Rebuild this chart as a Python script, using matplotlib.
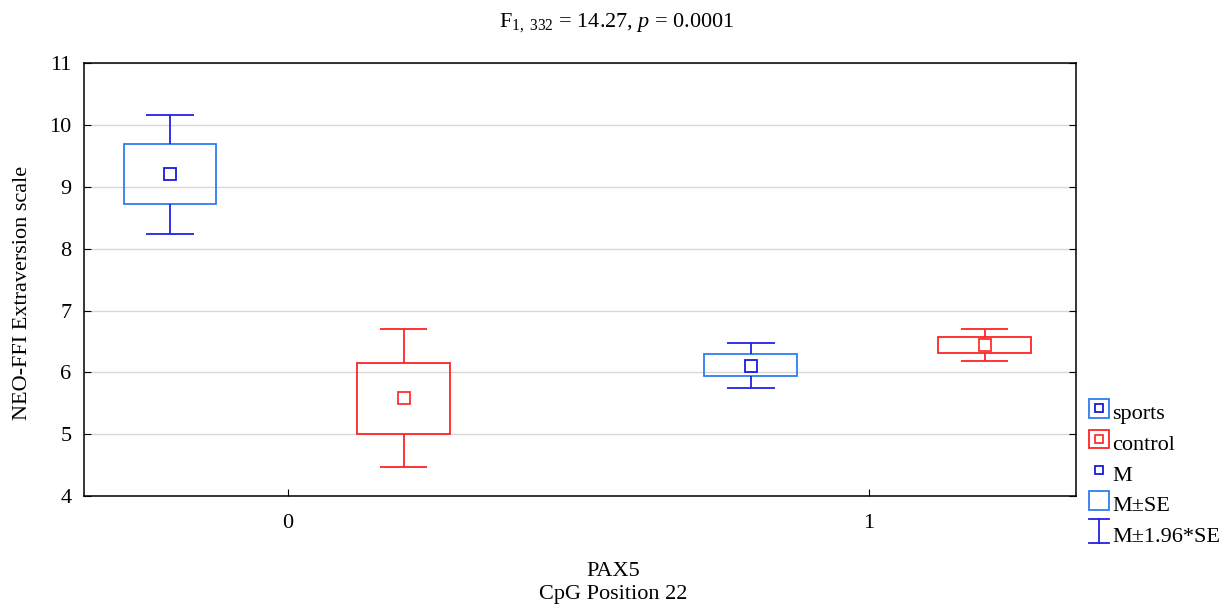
import matplotlib
matplotlib.use("Agg")
import matplotlib.pyplot as plt
from matplotlib.patches import Rectangle
from matplotlib.lines import Line2D
from matplotlib.legend_handler import HandlerBase

plt.rcParams["font.family"] = ["Liberation Serif", "DejaVu Serif"]
plt.rcParams["mathtext.fontset"] = "custom"
plt.rcParams["mathtext.rm"] = "Liberation Serif"
plt.rcParams["mathtext.it"] = "Liberation Serif:italic"

# ---------------------------------------------------------------- data
groups = ["sports", "control"]
positions = [0, 1]                       # PAX5 CpG Position 22 genotype
mean = {"sports": [9.21, 6.11], "control": [5.58, 6.44]}
se_lo = {"sports": [8.72, 5.94], "control": [5.01, 6.32]}
se_hi = {"sports": [9.69, 6.30], "control": [6.16, 6.58]}
ci_lo = {"sports": [8.24, 5.75], "control": [4.47, 6.19]}
ci_hi = {"sports": [10.16, 6.48], "control": [6.71, 6.71]}
yticks = [4, 5, 6, 7, 8, 9, 10, 11]

# ---------------------------------------------------------------- style
offset = {"sports": -0.203, "control": 0.199}
box_col = {"sports": "#2f7df2", "control": "#ff2424"}
whisk_col = {"sports": "#2222e6", "control": "#ff2424"}
mark_col = {"sports": "#1a1ae0", "control": "#ff3030"}
BOX_W, CAP_W = 0.16, 0.082
FS = 16

fig = plt.figure(figsize=(12.28, 6.14), dpi=100)
ax = fig.add_axes([0.0684, 0.192, 0.8076, 0.705])

for g in groups:
    for i, p in enumerate(positions):
        x = p + offset[g]
        ax.add_patch(Rectangle((x - BOX_W / 2, se_lo[g][i]), BOX_W,
                               se_hi[g][i] - se_lo[g][i], fill=False,
                               ec=box_col[g], lw=1.3, zorder=3))
        ax.vlines(x, se_hi[g][i], ci_hi[g][i], color=whisk_col[g], lw=1.3, zorder=3)
        ax.vlines(x, ci_lo[g][i], se_lo[g][i], color=whisk_col[g], lw=1.3, zorder=3)
        ax.hlines([ci_lo[g][i], ci_hi[g][i]], x - CAP_W / 2, x + CAP_W / 2,
                  color=whisk_col[g], lw=1.3, zorder=3)
    xs = [p + offset[g] for p in positions]
    ax.plot(xs, mean[g], ls="none", marker="s", ms=8, mfc="white",
            mec=mark_col[g], mew=1.3, zorder=4)

ax.set_xlim(-0.351, 1.356)
ax.set_ylim(4, 11)
ax.set_xticks(positions)
ax.set_yticks(yticks)
ax.tick_params(axis="both", direction="in", labelsize=FS, length=5,
               right=True, top=False, color="black")
ax.tick_params(axis="y", pad=9)
ax.tick_params(axis="x", pad=13)
ax.yaxis.grid(True, color="#d8d8d8", lw=1)
ax.set_axisbelow(True)
for s in ax.spines.values():
    s.set_linewidth(1.1)

fig.text(0.502, 0.964, r"F$_{1,\ 332}$ = 14.27, $p$ = 0.0001", ha="center",
         va="center", fontsize=FS)
fig.text(0.499, 0.016, "PAX5\nCpG Position 22", ha="center", va="bottom",
         fontsize=FS, linespacing=1.3)
fig.text(0.018, 0.523, "NEO-FFI Extraversion scale", rotation=90, ha="center",
         va="center", fontsize=FS)


# ---------------------------------------------------------------- legend
class BoxHandler(HandlerBase):
    def __init__(self, edge, inner=None):
        super().__init__()
        self.edge, self.inner = edge, inner

    def create_artists(self, legend, orig, xd, yd, w, h, fs, trans):
        arts = []
        if self.edge:
            arts.append(Rectangle((xd, yd), w, h, fill=False, ec=self.edge,
                                  lw=1.3, transform=trans))
        if self.inner:
            s = 0.45 * h
            arts.append(Rectangle((xd + w / 2 - s / 2, yd + h / 2 - s / 2), s, s,
                                  fill=False, ec=self.inner, lw=1.3, transform=trans))
        return arts


class WhiskerHandler(HandlerBase):
    def __init__(self, col):
        super().__init__()
        self.col = col

    def create_artists(self, legend, orig, xd, yd, w, h, fs, trans):
        cx = xd + w / 2
        kw = dict(color=self.col, lw=1.3, transform=trans)
        return [Line2D([cx, cx], [yd - 0.15 * h, yd + 1.15 * h], **kw),
                Line2D([xd, xd + w], [yd + 1.15 * h] * 2, **kw),
                Line2D([xd, xd + w], [yd - 0.15 * h] * 2, **kw)]


handles = [Line2D([], []) for _ in range(5)]
labels = ["sports", "control", "M", "M\u00b1SE", "M\u00b11.96*SE"]
hmap = {handles[0]: BoxHandler(box_col["sports"], mark_col["sports"]),
        handles[1]: BoxHandler(box_col["control"], mark_col["control"]),
        handles[2]: BoxHandler(None, mark_col["sports"]),
        handles[3]: BoxHandler(box_col["sports"]),
        handles[4]: WhiskerHandler(whisk_col["sports"])}
fig.legend(handles, labels, handler_map=hmap, loc="upper left",
           bbox_to_anchor=(0.887, 0.345), frameon=False, fontsize=FS,
           handlelength=0.9, handleheight=0.9, handletextpad=0.12,
           labelspacing=0.4, borderpad=0, borderaxespad=0)

fig.savefig("out.png", dpi=100)
